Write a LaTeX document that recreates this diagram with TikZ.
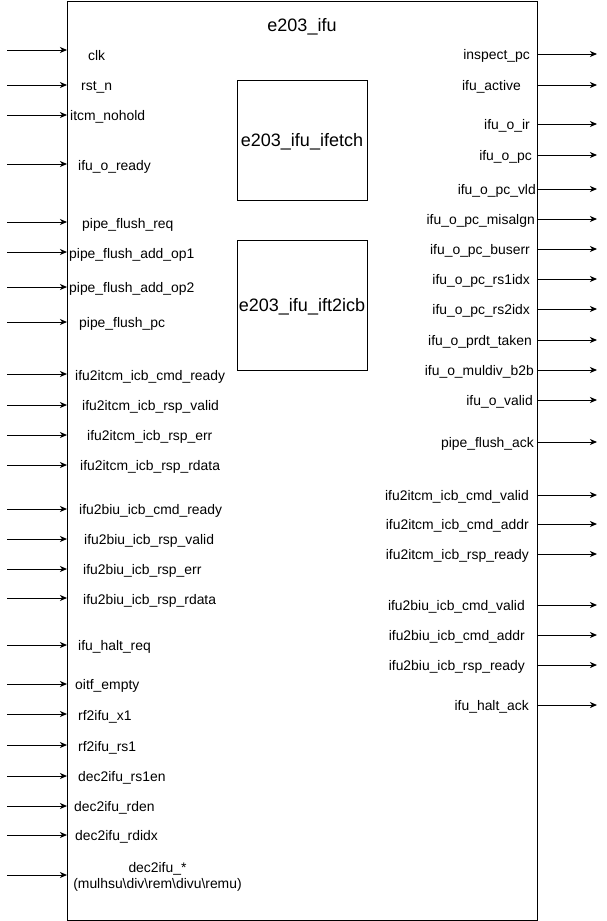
\documentclass[tikz,border=0pt]{standalone}
\usepackage{fontspec}
\setmainfont{Liberation Sans}
\usetikzlibrary{arrows.meta}
\begin{document}
\begin{tikzpicture}[x=1pt,y=-1pt,
  sig/.style={font=\fontsize{13.9}{16}\selectfont, inner sep=0pt, yshift=-3pt},
  big/.style={font=\fontsize{18}{21}\selectfont, yshift=-3pt},
  wire/.style={line width=1pt,-{Stealth[length=7pt,width=6pt,inset=2pt]}},
  box/.style={draw,line width=1pt,inner sep=0pt}]
\useasboundingbox (0,0) rectangle (606,921);
\node[box, minimum width=470pt, minimum height=919.5pt, anchor=north west] (ifu) at (67,0.5) {};
\node[big] (title) at (302,24) {e203\_ifu};
\node[box, minimum width=130pt, minimum height=120pt] (ifetch) at (302,140) {};
\node[big] (ifetchlbl) at (302,139) {e203\_ifu\_ifetch};
\node[box, minimum width=130pt, minimum height=130pt] (ift2icb) at (302,305) {};
\node[big] (ift2icblbl) at (302,304) {e203\_ifu\_ift2icb};
% inputs
\foreach \y/\lx/\ly/\t [count=\i] in {
  50/88/55/clk,
  85/81/85/rst\_n,
  115/70/115/itcm\_nohold,
  164/78/165/ifu\_o\_ready,
  222/82/223/pipe\_flush\_req,
  252/69/253/pipe\_flush\_add\_op1,
  287/69/287/pipe\_flush\_add\_op2,
  322/79/322/pipe\_flush\_pc,
  374/75/375/ifu2itcm\_icb\_cmd\_ready,
  405/82/405/ifu2itcm\_icb\_rsp\_valid,
  435/87/435/ifu2itcm\_icb\_rsp\_err,
  465/80/465/ifu2itcm\_icb\_rsp\_rdata,
  509/79/509/ifu2biu\_icb\_cmd\_ready,
  539/84/539/ifu2biu\_icb\_rsp\_valid,
  569/83/569/ifu2biu\_icb\_rsp\_err,
  598/83/599/ifu2biu\_icb\_rsp\_rdata,
  645/78/645/ifu\_halt\_req,
  684/75/684/oitf\_empty,
  714/78/715/rf2ifu\_x1,
  745/78/746/rf2ifu\_rs1,
  776/78/776/dec2ifu\_rs1en,
  806/74/806/dec2ifu\_rden,
  835/75/835/dec2ifu\_rdidx}{
  \coordinate (in\i) at (7,\y);
  \draw[wire] (in\i) -- (ifu.west |- in\i);
  \node[sig, anchor=mid west] (lin\i) at (\lx,\ly) {\t};
}
\coordinate (inmd) at (7,875);
\draw[wire] (inmd) -- (ifu.west |- inmd);
\node[sig, align=center, anchor=center] (linmd) at (157.5,874) {dec2ifu\_*\\(mulhsu\textbackslash div\textbackslash rem\textbackslash divu\textbackslash remu)};
% outputs
\foreach \y/\rx/\t [count=\i] in {
  54/530/inspect\_pc,
  85/521/ifu\_active,
  124/530/ifu\_o\_ir,
  155/532/ifu\_o\_pc,
  189/536/ifu\_o\_pc\_vld,
  219/535/ifu\_o\_pc\_misalgn,
  249/530/ifu\_o\_pc\_buserr,
  279/530/ifu\_o\_pc\_rs1idx,
  309/530/ifu\_o\_pc\_rs2idx,
  340/532/ifu\_o\_prdt\_taken,
  370/534/ifu\_o\_muldiv\_b2b,
  400/533/ifu\_o\_valid,
  442/534/pipe\_flush\_ack,
  495/529/ifu2itcm\_icb\_cmd\_valid,
  524/529/ifu2itcm\_icb\_cmd\_addr,
  554/529/ifu2itcm\_icb\_rsp\_ready,
  605/525/ifu2biu\_icb\_cmd\_valid,
  635/525/ifu2biu\_icb\_cmd\_addr,
  665/525/ifu2biu\_icb\_rsp\_ready,
  705/529/ifu\_halt\_ack}{
  \coordinate (out\i) at (597,\y);
  \draw[wire] (ifu.east |- out\i) -- (out\i);
  \node[sig, anchor=mid east] (lout\i) at (\rx,\y) {\t};
}
\end{tikzpicture}
\end{document}
